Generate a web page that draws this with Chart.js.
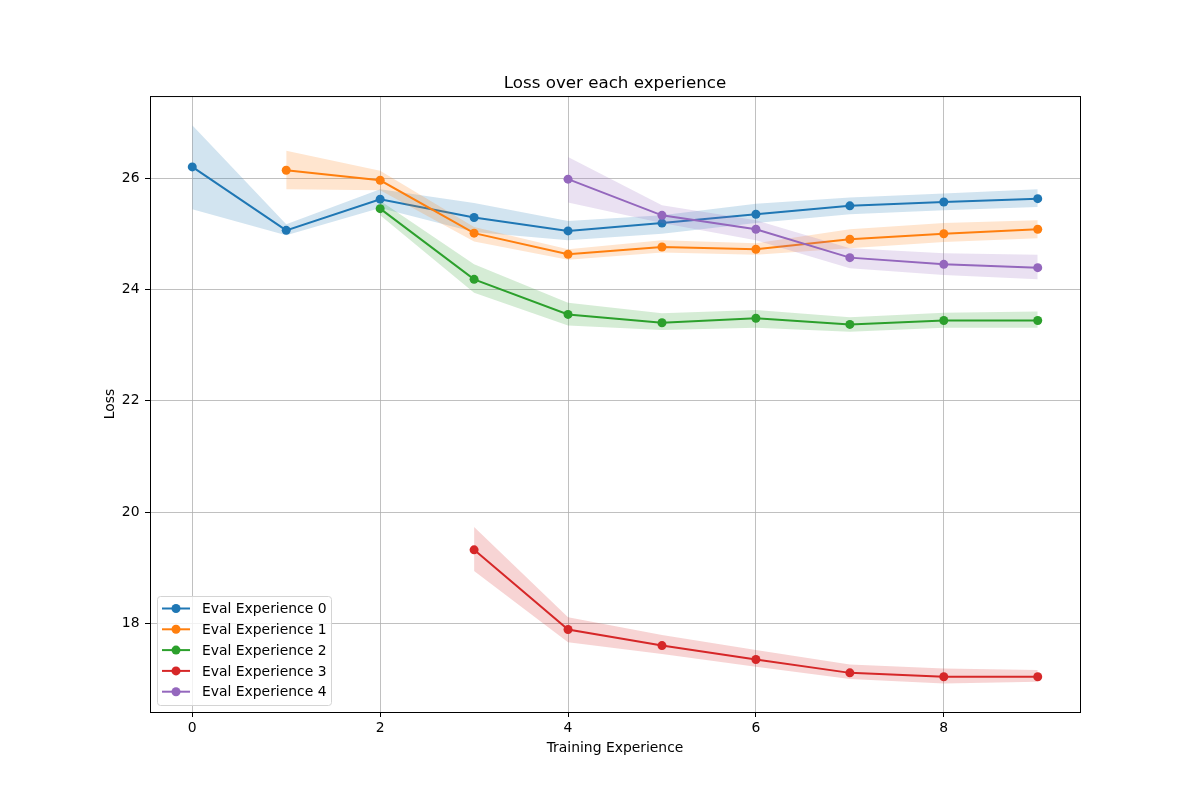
<!DOCTYPE html>
<html>
<head>
<meta charset="utf-8">
<script src="https://cdn.jsdelivr.net/npm/chart.js@4/dist/chart.umd.min.js"></script>
<style>
  html, body { margin: 0; padding: 0; background: #fff; }
  #wrap { width: 1200px; height: 800px; }
</style>
</head>
<body>
<div id="wrap"><canvas id="chart" width="1200" height="800"></canvas></div>
<script>
// values, one array per series
const seriesLabels = ['Eval Experience 0', 'Eval Experience 1', 'Eval Experience 2', 'Eval Experience 3', 'Eval Experience 4'];
const seriesColors = ['#1f77b4', '#ff7f0e', '#2ca02c', '#d62728', '#9467bd'];
const startStep = [0, 1, 2, 3, 4];

const exp0Loss  = [26.2, 25.06, 25.62, 25.29, 25.05, 25.19, 25.35, 25.5, 25.57, 25.63];
const exp0Upper = [26.95, 25.17, 25.8, 25.55, 25.23, 25.33, 25.54, 25.65, 25.72, 25.8];
const exp0Lower = [25.44, 24.97, 25.46, 25.03, 24.88, 25.0, 25.19, 25.35, 25.42, 25.48];

const exp1Loss  = [26.14, 25.96, 25.01, 24.63, 24.76, 24.72, 24.9, 25.0, 25.08];
const exp1Upper = [26.49, 26.13, 25.12, 24.72, 24.88, 24.83, 25.08, 25.19, 25.24];
const exp1Lower = [25.8, 25.78, 24.86, 24.53, 24.66, 24.62, 24.74, 24.85, 24.92];

const exp2Loss  = [25.45, 24.18, 23.55, 23.4, 23.48, 23.37, 23.44, 23.44];
const exp2Upper = [25.59, 24.45, 23.76, 23.57, 23.63, 23.5, 23.58, 23.6];
const exp2Lower = [25.33, 23.94, 23.35, 23.27, 23.31, 23.24, 23.31, 23.31];

const exp3Loss  = [19.32, 17.89, 17.6, 17.35, 17.11, 17.04, 17.04];
const exp3Upper = [19.73, 18.11, 17.79, 17.52, 17.26, 17.19, 17.16];
const exp3Lower = [18.94, 17.66, 17.45, 17.22, 17.0, 16.92, 16.95];

const exp4Loss  = [25.98, 25.33, 25.08, 24.57, 24.45, 24.39];
const exp4Upper = [26.38, 25.51, 25.24, 24.74, 24.65, 24.62];
const exp4Lower = [25.56, 25.19, 24.88, 24.38, 24.26, 24.18];

const xTicks = [0, 2, 4, 6, 8];
const yTicks = [18, 20, 22, 24, 26];

const lossSeries = [exp0Loss, exp1Loss, exp2Loss, exp3Loss, exp4Loss];
const upperSeries = [exp0Upper, exp1Upper, exp2Upper, exp3Upper, exp4Upper];
const lowerSeries = [exp0Lower, exp1Lower, exp2Lower, exp3Lower, exp4Lower];

const FONT = 'DejaVu Sans';

function toPoints(values, start) {
  return values.map((v, j) => ({ x: start + j, y: v }));
}

function alpha(hex, a) {
  const n = parseInt(hex.slice(1), 16);
  return `rgba(${(n >> 16) & 255},${(n >> 8) & 255},${n & 255},${a})`;
}

const datasets = [];
seriesLabels.forEach((label, i) => {
  const color = seriesColors[i];
  const base = 100 - i * 10;
  datasets.push({
    label,
    isLine: true,
    data: toPoints(lossSeries[i], startStep[i]),
    borderColor: color,
    backgroundColor: color,
    borderWidth: 2,
    pointRadius: 4.5,
    pointBorderWidth: 0,
    pointBackgroundColor: color,
    fill: false,
    order: base,
  });
  datasets.push({
    label: label + ' upper',
    data: toPoints(upperSeries[i], startStep[i]),
    borderWidth: 0,
    pointRadius: 0,
    backgroundColor: alpha(color, 0.2),
    fill: '+1',
    order: base + 1,
  });
  datasets.push({
    label: label + ' lower',
    data: toPoints(lowerSeries[i], startStep[i]),
    borderWidth: 0,
    pointRadius: 0,
    backgroundColor: alpha(color, 0.2),
    fill: false,
    order: base + 2,
  });
});

const framePlugin = {
  id: 'frame',
  afterDatasetsDraw(chart) {
    const { ctx, chartArea: a } = chart;
    ctx.save();
    ctx.strokeStyle = '#000';
    ctx.lineWidth = 1;
    ctx.strokeRect(a.left + 0.5, a.top + 0.5, a.right - a.left, a.bottom - a.top);
    ctx.restore();
  },
};

const legendBoxPlugin = {
  id: 'legendBox',
  afterDraw(chart) {
    const { ctx, chartArea: a } = chart;
    const lines = chart.data.datasets.filter((d) => d.isLine);
    const x0 = a.left + 7, y0 = a.bottom - 116, w = 174, h = 109, r = 3;
    ctx.save();
    ctx.beginPath();
    ctx.roundRect(x0 + 0.5, y0 + 0.5, w, h, r);
    ctx.fillStyle = 'rgba(255,255,255,0.8)';
    ctx.fill();
    ctx.strokeStyle = '#d4d4d4';
    ctx.lineWidth = 1;
    ctx.stroke();
    ctx.font = `13.9px "${FONT}"`;
    ctx.textBaseline = 'middle';
    ctx.textAlign = 'left';
    lines.forEach((d, k) => {
      const y = y0 + 12.5 + k * 20.8;
      ctx.strokeStyle = d.borderColor;
      ctx.lineWidth = 2;
      ctx.beginPath();
      ctx.moveTo(x0 + 5, y);
      ctx.lineTo(x0 + 33, y);
      ctx.stroke();
      ctx.fillStyle = d.borderColor;
      ctx.beginPath();
      ctx.arc(x0 + 19, y, 4.5, 0, Math.PI * 2);
      ctx.fill();
      ctx.fillStyle = '#000';
      ctx.fillText(d.label, x0 + 45, y + 1);
    });
    ctx.restore();
  },
};

new Chart(document.getElementById('chart'), {
  type: 'line',
  data: { datasets },
  options: {
    responsive: false,
    devicePixelRatio: 1,
    animation: false,
    layout: { padding: { left: 0, right: 120, top: 0, bottom: 0 } },
    plugins: {
      legend: { display: false },
      tooltip: { enabled: false },
      title: {
        display: true,
        fullSize: false,
        text: 'Loss over each experience',
        color: '#000',
        font: { family: FONT, size: 16.7, weight: 'normal', lineHeight: 1.2 },
        padding: { top: 74, bottom: 2 },
      },
    },
    scales: {
      x: {
        type: 'linear',
        min: -0.45,
        max: 9.45,
        afterBuildTicks: (s) => { s.ticks = xTicks.map((v) => ({ value: v })); },
        afterFit: (s) => { s.height = 88; },
        ticks: { color: '#000', padding: 3, font: { family: FONT, size: 13.9 }, maxRotation: 0 },
        grid: { color: '#b0b0b0', lineWidth: 0.8, tickColor: '#000', tickLength: 5, tickWidth: 1 },
        border: { display: false },
        title: {
          display: true,
          text: 'Training Experience',
          color: '#000',
          font: { family: FONT, size: 13.9, lineHeight: 1.2 },
          padding: { top: 0, bottom: 43 },
        },
      },
      y: {
        type: 'linear',
        min: 16.407,
        max: 27.473,
        afterBuildTicks: (s) => { s.ticks = yTicks.map((v) => ({ value: v })); },
        afterFit: (s) => { s.width = 150; },
        ticks: { color: '#000', padding: 5.5, font: { family: FONT, size: 13.9 } },
        grid: { color: '#b0b0b0', lineWidth: 0.8, tickColor: '#000', tickLength: 5, tickWidth: 1 },
        border: { display: false },
        title: {
          display: true,
          text: 'Loss',
          color: '#000',
          font: { family: FONT, size: 13.9, lineHeight: 1.2 },
          padding: { top: 102, bottom: 0 },
        },
      },
    },
  },
  plugins: [framePlugin, legendBoxPlugin],
});
</script>
</body>
</html>
